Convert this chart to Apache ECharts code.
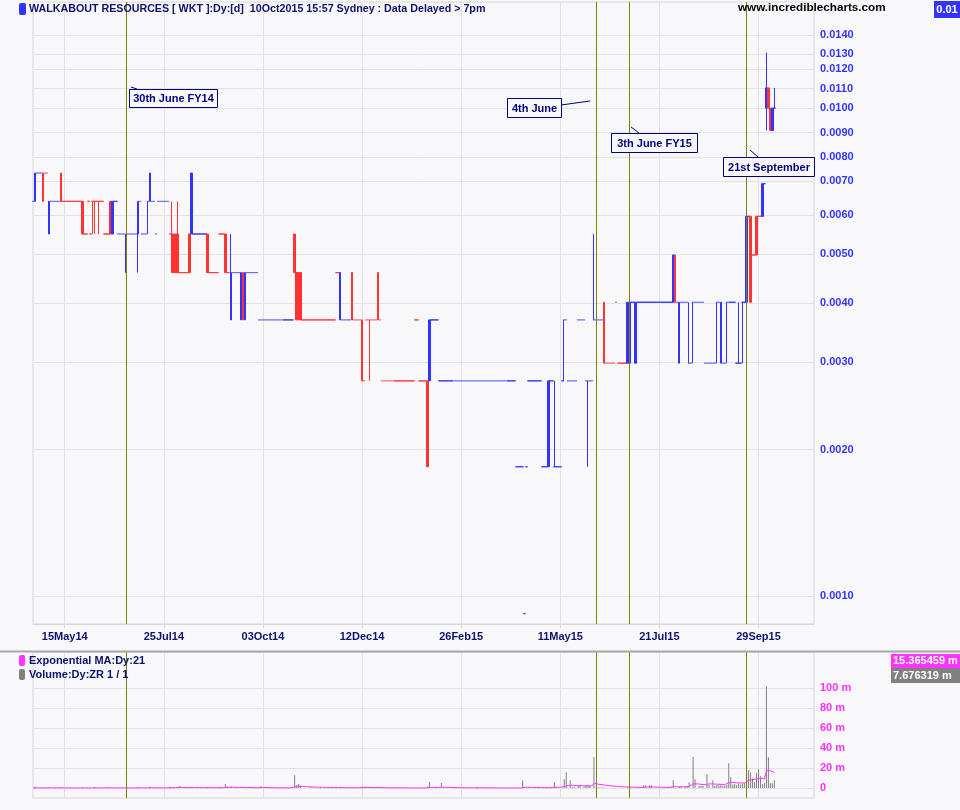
<!DOCTYPE html>
<html>
<head>
<meta charset="utf-8">
<script src="https://cdn.jsdelivr.net/npm/echarts@6/dist/echarts.min.js"></script>
<style>
html,body{margin:0;padding:0;background:#f8f8fa;}
#chart{width:960px;height:810px;}
</style>
</head>
<body>
<div id="chart"></div>
<script>
// ---------------- DATA ----------------
const firstTradingDay = '2014-04-22';
const exchangeHolidays = ['2014-04-25','2014-06-09','2014-12-25','2014-12-26','2015-01-01','2015-01-26','2015-04-03','2015-04-06','2015-06-08'];
const categoryCount = 395; // trading-day slots on the axis (data + empty future slots)
const xTickLabels = ['15May14','25Jul14','03Oct14','12Dec14','26Feb15','11May15','21Jul15','29Sep15'];
const priceTicks = [0.0010,0.0020,0.0030,0.0040,0.0050,0.0060,0.0070,0.0080,0.0090,0.0100,0.0110,0.0120,0.0130,0.0140];
const volumeTicks = [0,20,40,60,80,100];
const eventDates = ['30Jun14','04Jun15','30Jun15','21Sep15'];
const eventNotes = ['30th June FY14','4th June','3th June FY15','21st September'];

// flat run: [days, price, dir]   candle: [open, close, low, high, dir]
const priceRuns = [
  [1, 0.00644, 'u'],
  [0.00644, 0.00736, 0.00644, 0.00736, 'u'],
  [3, 0.00736, 'u'],
  [0.00736, 0.00644, 0.00644, 0.00736, 'd'],
  [2, 0.00736, 'd'],
  [0.00552, 0.00644, 0.00552, 0.00644, 'u'],
  [5, 0.00644, 'u'],
  [0.00736, 0.00644, 0.00644, 0.00736, 'd'],
  [10, 0.00644, 'd'],
  [0.00644, 0.00552, 0.00552, 0.00644, 'd'],
  [2, 0.00552, 'd'],
  [1, 0.00644, 'd'],
  [1, 0.00552, 'd'],
  [0.00644, 0.00644, 0.00552, 0.00644, 'd'],
  [0.00644, 0.00644, 0.00552, 0.00644, 'd'],
  [1, 0.00644, 'd'],
  [0.00644, 0.00644, 0.00552, 0.00644, 'd'],
  [2, 0.00644, 'd'],
  [3, 0.00552, 'd'],
  [0.00644, 0.00552, 0.00552, 0.00644, 'd'],
  [0.00552, 0.00644, 0.00552, 0.00644, 'u'],
  [2, 0.00644, 'u'],
  [4, 0.00552, 'u'],
  [0.0046, 0.00552, 0.0046, 0.00552, 'u'],
  [5, 0.00552, 'u'],
  [0.00552, 0.00644, 0.0046, 0.00644, 'u'],
  [1, 0.00644, 'u'],
  [3, 0.00552, 'u'],
  [0.00644, 0.00644, 0.00552, 0.00644, 'u'],
  [0.00644, 0.00736, 0.00644, 0.00736, 'u'],
  [2, 0.00644, 'u'],
  [1, 0.00552, 'u'],
  [6, 0.00644, 'u'],
  [1, 0.00552, 'u'],
  [0.00552, 0.0046, 0.0046, 0.00644, 'd'],
  [0.00552, 0.0046, 0.0046, 0.00552, 'd'],
  [0.00552, 0.0046, 0.0046, 0.00552, 'd'],
  [0.00552, 0.0046, 0.0046, 0.00644, 'd'],
  [5, 0.0046, 'd'],
  [0.00552, 0.0046, 0.0046, 0.00552, 'd'],
  [0.00552, 0.00736, 0.00552, 0.00736, 'u'],
  [7, 0.00552, 'u'],
  [0.00552, 0.0046, 0.0046, 0.00552, 'd'],
  [5, 0.0046, 'd'],
  [3, 0.00552, 'd'],
  [0.00552, 0.0046, 0.0046, 0.00552, 'd'],
  [2, 0.0046, 'd'],
  [0.00368, 0.0046, 0.00368, 0.00552, 'u'],
  [4, 0.0046, 'u'],
  [0.00368, 0.0046, 0.00368, 0.0046, 'u'],
  [0.0046, 0.00368, 0.00368, 0.0046, 'd'],
  [0.00368, 0.0046, 0.00368, 0.0046, 'u'],
  [6, 0.0046, 'u'],
  [18, 0.00368, 'u'],
  [0.00552, 0.0046, 0.0046, 0.00552, 'd'],
  [0.0046, 0.00368, 0.00368, 0.0046, 'd'],
  [0.0046, 0.00368, 0.00368, 0.0046, 'd'],
  [0.0046, 0.00368, 0.00368, 0.0046, 'd'],
  [17, 0.00368, 'd'],
  [2, 0.0046, 'd'],
  [0.00368, 0.0046, 0.00368, 0.0046, 'u'],
  [5, 0.00368, 'u'],
  [0.0046, 0.00368, 0.00368, 0.0046, 'd'],
  [4, 0.00368, 'd'],
  [0.00368, 0.00276, 0.00276, 0.00368, 'd'],
  [1, 0.00276, 'd'],
  [2, 0.00368, 'd'],
  [0.00368, 0.00368, 0.00276, 0.00368, 'd'],
  [3, 0.00368, 'd'],
  [0.0046, 0.00368, 0.00368, 0.0046, 'd'],
  [1, 0.00368, 'd'],
  [17, 0.00276, 'd'],
  [2, 0.00368, 'd'],
  [4, 0.00276, 'd'],
  [0.00276, 0.00184, 0.00184, 0.00276, 'd'],
  [0.00276, 0.00368, 0.00276, 0.00368, 'u'],
  [4, 0.00368, 'u'],
  [39, 0.00276, 'u'],
  [4, 0.00184, 'u'],
  [1, 0.00092, 'u'],
  [1, 0.00184, 'u'],
  [7, 0.00276, 'u'],
  [3, 0.00184, 'u'],
  [0.00184, 0.00276, 0.00184, 0.00276, 'u'],
  [2, 0.00276, 'u'],
  [0.00184, 0.00184, 0.00184, 0.00276, 'u'],
  [3, 0.00184, 'u'],
  [1, 0.00276, 'u'],
  [0.00368, 0.00368, 0.00276, 0.00368, 'u'],
  [1, 0.00368, 'u'],
  [5, 0.00276, 'u'],
  [4, 0.00368, 'u'],
  [1, 0.00276, 'u'],
  [0.00276, 0.00276, 0.00184, 0.00276, 'u'],
  [2, 0.00276, 'u'],
  [0.00368, 0.00368, 0.00368, 0.00552, 'u'],
  [4, 0.00368, 'u'],
  [0.0040, 0.0030, 0.0030, 0.0040, 'd'],
  [5, 0.0030, 'd'],
  [1, 0.0040, 'd'],
  [5, 0.0030, 'd'],
  [0.0030, 0.0040, 0.0030, 0.0040, 'u'],
  [0.0030, 0.0040, 0.0030, 0.0040, 'u'],
  [2, 0.0040, 'u'],
  [0.0030, 0.0040, 0.0030, 0.0040, 'u'],
  [18, 0.0040, 'u'],
  [0.0040, 0.0050, 0.0040, 0.0050, 'u'],
  [0.0050, 0.0040, 0.0040, 0.0050, 'd'],
  [1, 0.0040, 'u'],
  [0.0030, 0.0040, 0.0030, 0.0040, 'u'],
  [4, 0.0040, 'u'],
  [0.0030, 0.0030, 0.0030, 0.0040, 'u'],
  [1, 0.0030, 'u'],
  [0.0040, 0.0040, 0.0030, 0.0040, 'u'],
  [5, 0.0040, 'u'],
  [6, 0.0030, 'u'],
  [0.0040, 0.0040, 0.0030, 0.0040, 'u'],
  [1, 0.0040, 'u'],
  [0.0030, 0.0040, 0.0030, 0.0040, 'u'],
  [2, 0.0030, 'u'],
  [0.0040, 0.0040, 0.0030, 0.0040, 'u'],
  [4, 0.0040, 'u'],
  [1, 0.0030, 'u'],
  [0.0030, 0.0030, 0.0030, 0.0040, 'u'],
  [1, 0.0030, 'u'],
  [0.0040, 0.0040, 0.0030, 0.0040, 'u'],
  [1, 0.0040, 'u'],
  [0.0040, 0.0060, 0.0040, 0.0060, 'u'],
  [1, 0.0060, 'u'],
  [0.0060, 0.0040, 0.0040, 0.0060, 'd'],
  [2, 0.0050, 'd'],
  [0.0060, 0.0050, 0.0050, 0.0060, 'd'],
  [2, 0.0060, 'd'],
  [0.0060, 0.0070, 0.0060, 0.0070, 'u'],
  [1, 0.0070, 'u'],
  [0.0100, 0.0110, 0.0090, 0.0130, 'u'],
  [0.0110, 0.0100, 0.0100, 0.0110, 'd'],
  [0.0100, 0.0090, 0.0090, 0.0100, 'd'],
  [0.0090, 0.0100, 0.0090, 0.0100, 'u'],
  [0.0100, 0.0100, 0.0100, 0.0110, 'u']
];

// daily volume readings in millions: [day index, volume]
const volumeReadings = [
  [1,1.5],[8,0.8],[14,0.6],[25,0.5],[31,1],[38,1],[47,0.6],[53,0.8],[59,1.5],[69,1.5],[70,1],[71,1],[73,1],[74,2],
  [79,0.8],[80,1],[82,0.6],[85,0.6],[88,1],[90,0.6],[94,1],[95,1],[97,4],[98,1.5],[100,1.5],[102,1],[105,0.8],[106,0.8],
  [115,2],[117,1],[132,12.7],[133,3],[134,4],[135,2.5],[140,0.7],[145,0.7],[153,0.7],[155,0.8],[161,0.7],[166,1.5],
  [167,1.2],[168,1.5],[170,1],[174,1],[199,1.5],[200,6.3],[206,5],[224,1],[247,7.7],[248,1],[250,1],[259,1],[261,1],
  [263,5.7],[264,1],[268,8.7],[269,15.7],[271,7.7],[272,1],[273,1],[275,2],[276,3],[278,1.5],[279,3],[280,3],[281,2],
  [283,31],[285,0.5],[286,0.5],[287,0.5],[288,0.5],[300,1],[308,2.7],[309,2.7],[311,2.7],[312,2.7],[320,1],[321,1],
  [322,1],[323,7.7],[326,1.5],[327,1.5],[329,1.5],[330,1.5],[331,5.7],[333,31],[334,8.7],[336,2],[337,2],[338,2],
  [340,13.7],[341,3],[343,7.7],[344,2],[345,3],[346,2.5],[347,3],[348,2],[349,2.5],[350,3],[351,24.7],[352,10.7],
  [353,3.5],[354,4],[355,3],[356,4.5],[357,3.5],[358,4],[359,5],[360,23.7],[361,17.7],[362,15.7],[363,9.7],[364,5.7],
  [365,14.7],[366,18.7],[367,11.7],[368,3.7],[369,5],[370,101.7],[371,30.7],[372,4.7],[373,4.7],[374,7.676319]
];

// ---------------- BUILD ----------------
const MONTHS = ['Jan','Feb','Mar','Apr','May','Jun','Jul','Aug','Sep','Oct','Nov','Dec'];
function fmtDate(d){ return String(d.getUTCDate()).padStart(2,'0') + MONTHS[d.getUTCMonth()] + String(d.getUTCFullYear()).slice(2); }
const categories = [];
{
  const d = new Date(firstTradingDay + 'T00:00:00Z');
  while (categories.length < categoryCount) {
    const wd = d.getUTCDay();
    const iso = d.toISOString().slice(0,10);
    if (wd !== 0 && wd !== 6 && !exchangeHolidays.includes(iso)) categories.push(fmtDate(d));
    d.setUTCDate(d.getUTCDate() + 1);
  }
}
const BLUE = '#3333ff', RED = '#ff3333', NAVY = '#10106e', MAGENTA = '#ff33ff', OLIVE = '#808000';
const ohlc = [], dirs = [];
priceRuns.forEach(r => {
  if (r.length === 3) { for (let k = 0; k < r[0]; k++) { ohlc.push([r[1], r[1], r[1], r[1]]); dirs.push(r[2]); } }
  else { ohlc.push([r[0], r[1], r[2], r[3]]); dirs.push(r[4]); }
});
const candleData = ohlc.map((v, i) => {
  const c = dirs[i] === 'u' ? BLUE : RED;
  return { value: v, itemStyle: { color: c, color0: c, borderColor: c, borderColor0: c } };
});
const volume = ohlc.map(() => 0);
volumeReadings.forEach(([i, v]) => { volume[i] = v; });
const ema = [];
const alpha = 2 / (21 + 1);
volume.forEach((v, i) => { ema.push(i === 0 ? v : ema[i - 1] + alpha * (v - ema[i - 1])); });

const PRICE_MIN = 0.000876, PRICE_MAX = 0.0165;
const tickSet = new Set(xTickLabels);
const showTick = (idx, val) => tickSet.has(val);
const FONT = '"Liberation Sans", Arial, sans-serif';
const GRIDC = '#e2e2e2';

const chart = echarts.init(document.getElementById('chart'), null, { renderer: 'canvas' });

function boxNote(x, y, w, h, text) {
  return [
    { type: 'rect', shape: { x: x + 0.5, y: y + 0.5, width: w, height: h }, style: { fill: '#f8f8fa', stroke: '#000080', lineWidth: 1 }, z: 20 },
    { type: 'text', x: x + w / 2 + 0.5, y: y + h / 2 + 1, style: { text: text, fill: '#000080', font: 'bold 11px ' + FONT, align: 'center', verticalAlign: 'middle' }, z: 21 }
  ];
}
function seg(x1, y1, x2, y2, color, w) {
  return { type: 'line', shape: { x1, y1, x2, y2 }, style: { stroke: color, lineWidth: w || 1 }, z: 20 };
}

const option = {
  animation: false,
  backgroundColor: '#f8f8fa',
  grid: [
    { left: 33, right: 146, top: 2, height: 622, show: true, borderColor: '#d8d8d8', borderWidth: 1 },
    { left: 33, right: 146, top: 652, height: 146, show: true, borderColor: '#d8d8d8', borderWidth: 1 }
  ],
  xAxis: [
    { type: 'category', gridIndex: 0, data: categories, boundaryGap: false,
      axisLine: { lineStyle: { color: '#d8d8d8' } },
      axisTick: { interval: showTick, length: 4, lineStyle: { color: '#d8d8d8' } },
      axisLabel: { interval: showTick, color: NAVY, fontWeight: 'bold', fontSize: 11, fontFamily: FONT, margin: 7 },
      splitLine: { show: true, interval: showTick, lineStyle: { color: GRIDC, width: 1 } } },
    { type: 'category', gridIndex: 1, data: categories, boundaryGap: false,
      axisLine: { lineStyle: { color: '#d8d8d8' } },
      axisTick: { interval: showTick, length: 4, lineStyle: { color: '#d8d8d8' } },
      axisLabel: { show: false },
      splitLine: { show: true, interval: showTick, lineStyle: { color: GRIDC, width: 1 } } }
  ],
  yAxis: [
    { type: 'log', gridIndex: 0, min: PRICE_MIN, max: PRICE_MAX, position: 'right',
      axisLine: { show: false }, axisTick: { show: false }, axisLabel: { show: false }, splitLine: { show: false } },
    { type: 'value', gridIndex: 1, min: -10, max: 136, position: 'right',
      axisLine: { show: false }, axisTick: { show: false }, axisLabel: { show: false }, splitLine: { show: false } },
    // helper axis: same log mapping expressed linearly in log10 units, used for the price grid lines
    { type: 'value', gridIndex: 0, min: Math.log10(PRICE_MIN), max: Math.log10(PRICE_MAX), position: 'right', show: false,
      axisLine: { show: false }, axisTick: { show: false }, axisLabel: { show: false }, splitLine: { show: false } }
  ],
  series: [
    { type: 'line', xAxisIndex: 0, yAxisIndex: 2, data: [], silent: true, z: 1,
      markLine: { silent: true, symbol: ['none', 'none'], z: 1, animation: false,
        lineStyle: { color: GRIDC, type: 'solid', width: 1 },
        label: { show: true, position: 'end', distance: 6, formatter: '{b}', color: BLUE, fontWeight: 'bold', fontSize: 11, fontFamily: FONT },
        emphasis: { disabled: true },
        data: priceTicks.map(v => ({ yAxis: Math.log10(v), name: v.toFixed(4) })) } },
    { type: 'line', xAxisIndex: 1, yAxisIndex: 1, data: [], silent: true, z: 1,
      markLine: { silent: true, symbol: ['none', 'none'], z: 1, animation: false,
        lineStyle: { color: GRIDC, type: 'solid', width: 1 },
        label: { show: true, position: 'end', distance: 6, formatter: '{b}', color: MAGENTA, fontWeight: 'bold', fontSize: 11, fontFamily: FONT },
        emphasis: { disabled: true },
        data: volumeTicks.map(v => ({ yAxis: v, name: v === 0 ? '0' : v + ' m' })) } },
    { type: 'candlestick', xAxisIndex: 0, yAxisIndex: 0, data: candleData, barWidth: 2, z: 2, silent: true,
      itemStyle: { borderWidth: 1 } },
    { type: 'line', xAxisIndex: 0, yAxisIndex: 2, data: [], silent: true, z: 3,
      markLine: { silent: true, symbol: ['none', 'none'], z: 3, animation: false,
        lineStyle: { color: OLIVE, type: 'solid', width: 1 }, label: { show: false }, emphasis: { disabled: true },
        data: eventDates.map(d => ({ xAxis: d })) } },
    { type: 'bar', xAxisIndex: 1, yAxisIndex: 1, data: volume, barWidth: 1, silent: true, z: 2,
      itemStyle: { color: '#808080' } },
    { type: 'line', xAxisIndex: 1, yAxisIndex: 1, data: ema, showSymbol: false, silent: true, z: 3,
      lineStyle: { color: MAGENTA, width: 1 } },
    { type: 'line', xAxisIndex: 1, yAxisIndex: 1, data: [], silent: true, z: 4,
      markLine: { silent: true, symbol: ['none', 'none'], z: 4, animation: false,
        lineStyle: { color: OLIVE, type: 'solid', width: 1 }, label: { show: false }, emphasis: { disabled: true },
        data: eventDates.map(d => ({ xAxis: d })) } }
  ],
  graphic: [
    { type: 'rect', shape: { x: 19, y: 3, width: 7, height: 12, r: 2 }, style: { fill: BLUE }, z: 20 },
    { type: 'text', x: 29, y: 9, style: { text: 'WALKABOUT RESOURCES [ WKT ]:Dy:[d]  10Oct2015 15:57 Sydney : Data Delayed > 7pm', fill: NAVY, font: 'bold 10.7px ' + FONT, verticalAlign: 'middle' }, z: 20 },
    { type: 'text', x: 738, y: 8, style: { text: 'www.incrediblecharts.com', fill: '#000000', font: 'bold 11.7px ' + FONT, verticalAlign: 'middle' }, z: 20 },
    { type: 'rect', shape: { x: 934, y: 1, width: 26, height: 17 }, style: { fill: BLUE }, z: 20 },
    { type: 'text', x: 947, y: 10, style: { text: '0.01', fill: '#ffffff', font: 'bold 11px ' + FONT, align: 'center', verticalAlign: 'middle' }, z: 21 },
    ...boxNote(129, 89, 88, 18, eventNotes[0]),
    seg(131, 87, 137, 89, '#000080'),
    ...boxNote(507, 98, 54, 19, eventNotes[1]),
    seg(561, 105, 590, 101, '#000080'),
    ...boxNote(611, 133, 86, 19, eventNotes[2]),
    seg(631, 127, 639, 133, '#000080'),
    ...boxNote(723, 157, 91, 19, eventNotes[3]),
    seg(750, 150, 758, 157, '#000080'),
    seg(0, 651.5, 960, 651.5, '#a8a8a8', 2),
    { type: 'rect', shape: { x: 19, y: 655, width: 6, height: 11, r: 2 }, style: { fill: MAGENTA }, z: 20 },
    { type: 'text', x: 29, y: 661, style: { text: 'Exponential MA:Dy:21', fill: NAVY, font: 'bold 11px ' + FONT, verticalAlign: 'middle' }, z: 20 },
    { type: 'rect', shape: { x: 19, y: 669, width: 6, height: 11, r: 2 }, style: { fill: '#808080' }, z: 20 },
    { type: 'text', x: 29, y: 675, style: { text: 'Volume:Dy:ZR 1 / 1', fill: NAVY, font: 'bold 11px ' + FONT, verticalAlign: 'middle' }, z: 20 },
    { type: 'rect', shape: { x: 891, y: 654, width: 69, height: 14 }, style: { fill: MAGENTA }, z: 20 },
    { type: 'text', x: 893, y: 661, style: { text: '15.365459 m', fill: '#ffffff', font: 'bold 11px ' + FONT, verticalAlign: 'middle' }, z: 21 },
    { type: 'rect', shape: { x: 891, y: 668, width: 69, height: 15 }, style: { fill: '#808080' }, z: 20 },
    { type: 'text', x: 893, y: 675.5, style: { text: '7.676319 m', fill: '#ffffff', font: 'bold 11px ' + FONT, verticalAlign: 'middle' }, z: 21 }
  ]
};
chart.setOption(option);
</script>
</body>
</html>
